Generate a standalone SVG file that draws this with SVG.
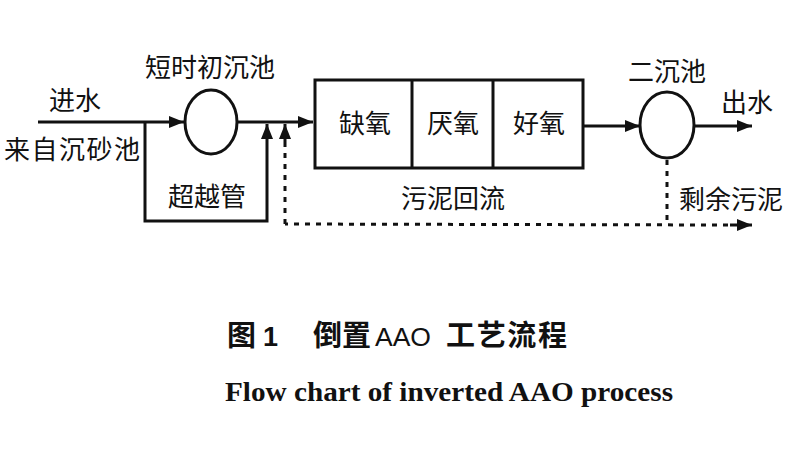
<svg xmlns="http://www.w3.org/2000/svg" width="800" height="450" viewBox="0 0 800 450">
<defs>
<style>
.t{font-family:"Noto Sans CJK SC","Liberation Sans",sans-serif;font-size:26px;fill:#111;text-anchor:middle}
.ln{stroke:#111;stroke-width:3;fill:none}
.dash{stroke:#111;stroke-width:3;fill:none;stroke-dasharray:5 6}
.shape{stroke:#111;stroke-width:3;fill:#fff}
.cap{font-family:"Noto Sans CJK SC","Liberation Sans",sans-serif;font-size:29px;font-weight:bold;fill:#111}
.en{font-family:"Liberation Serif",serif;font-size:28px;font-weight:bold;fill:#111}
</style>
<marker id="ah" viewBox="0 0 10 10" refX="10" refY="5" markerWidth="22" markerHeight="15" markerUnits="userSpaceOnUse" orient="auto">
<path d="M0,1 L10,5 L0,9 Z" fill="#111"/>
</marker>
</defs>
<rect width="800" height="450" fill="#fff"/>
<g id="connectors">
<line class="ln" x1="38" y1="122" x2="184" y2="122" marker-end="url(#ah)"/>
<line class="ln" x1="237" y1="122" x2="313" y2="122" marker-end="url(#ah)"/>
<polyline class="ln" points="145,122 145,221 267,221 267,124" marker-end="url(#ah)"/>
<polyline class="dash" points="728,225 285,224"/>
<line class="dash" x1="285" y1="224" x2="285" y2="142"/>
<line class="ln" x1="285" y1="142" x2="285" y2="124" marker-end="url(#ah)"/>
<line class="ln" x1="583" y1="126" x2="640" y2="126" marker-end="url(#ah)"/>
<line class="ln" x1="694" y1="126" x2="752" y2="126" marker-end="url(#ah)"/>
<line class="dash" x1="667" y1="160" x2="667" y2="224"/>
<line class="ln" x1="730" y1="225" x2="752" y2="225" marker-end="url(#ah)"/>
</g>
<g id="inlet"><text class="t" x="75" y="110">进水</text><text class="t" x="72" y="159" textLength="136" lengthAdjust="spacing">来自沉砂池</text></g>
<g id="primary"><ellipse class="shape" cx="211" cy="122" rx="26" ry="32"/><text class="t" x="210" y="77">短时初沉池</text></g>
<g id="bypass"><text class="t" x="207" y="206">超越管</text></g>
<g id="reactor">
<rect class="shape" x="315" y="80" width="268" height="88"/>
<line class="ln" x1="412" y1="80" x2="412" y2="168"/>
<line class="ln" x1="493" y1="80" x2="493" y2="168"/>
<text class="t" x="365" y="133">缺氧</text>
<text class="t" x="453" y="133">厌氧</text>
<text class="t" x="539" y="133">好氧</text>
</g>
<g id="return"><text class="t" x="453" y="208">污泥回流</text></g>
<g id="secondary"><ellipse class="shape" cx="667" cy="125" rx="27" ry="33"/><text class="t" x="667" y="81">二沉池</text></g>
<g id="outlet"><text class="t" x="747" y="112">出水</text></g>
<g id="waste"><text class="t" x="731" y="209">剩余污泥</text></g>
<g id="caption">
<text class="cap" x="227" y="346">图</text>
<text class="cap" x="263" y="346" style="font-family:'Liberation Sans',sans-serif;font-size:27px">1</text>
<text class="cap" x="313" y="346">倒置</text>
<text class="cap" x="375" y="346" style="font-family:'Liberation Sans',sans-serif;font-weight:normal;font-size:26px" textLength="56" lengthAdjust="spacingAndGlyphs">AAO</text>
<text class="cap" x="446" y="346" textLength="121" lengthAdjust="spacing">工艺流程</text>
<text class="en" x="225" y="401" textLength="448" lengthAdjust="spacingAndGlyphs">Flow chart of inverted AAO process</text>
</g>
</svg>
